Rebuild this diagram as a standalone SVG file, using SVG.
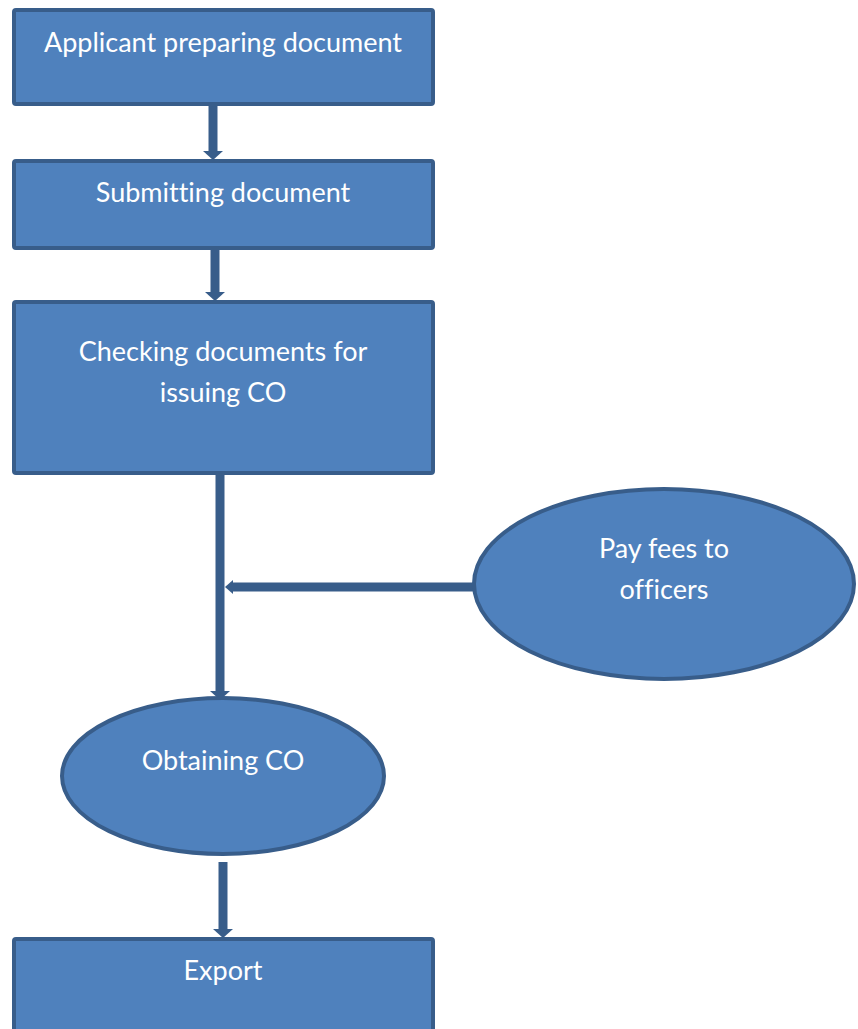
<svg xmlns="http://www.w3.org/2000/svg" width="858" height="1029" viewBox="0 0 858 1029">
<style>
.node{fill:#4F81BD;stroke:#385D8A;stroke-width:4}
.lbl{fill:#FFFFFF;font-family:Lato,"Open Sans","Liberation Sans",sans-serif;font-size:27px;text-anchor:middle;font-variant-ligatures:none}
.conn{stroke:#385D8A;stroke-width:9;fill:none}
.head{fill:#385D8A}
</style>
<rect width="858" height="1029" fill="#FFFFFF"/>
<g id="connectors">
<line class="conn" x1="213" y1="105" x2="213" y2="152"/>
<polygon class="head" points="203,151 223,151 213,160"/>
<line class="conn" x1="215" y1="250" x2="215" y2="293"/>
<polygon class="head" points="205,292 225,292 215,301"/>
<line class="conn" x1="220" y1="474" x2="220" y2="692"/>
<polygon class="head" points="210,691 230,691 220,700"/>
<line class="conn" x1="473" y1="587" x2="232" y2="587"/>
<polygon class="head" points="233,580 225,587 233,594"/>
<line class="conn" x1="223" y1="862" x2="223" y2="930"/>
<polygon class="head" points="213,929 233,929 223,938"/>
</g>
<g id="n1">
<rect class="node" x="14" y="10" width="419" height="94" rx="2"/>
<text class="lbl" x="223" y="52">Applicant preparing document</text>
</g>
<g id="n2">
<rect class="node" x="14" y="161" width="419" height="87" rx="2"/>
<text class="lbl" x="223" y="202">Submitting document</text>
</g>
<g id="n3">
<rect class="node" x="14" y="302" width="419" height="171" rx="2"/>
<text class="lbl" x="223" y="361">Checking documents for</text>
<text class="lbl" x="223" y="402">issuing CO</text>
</g>
<g id="n4">
<ellipse class="node" cx="664" cy="584" rx="190" ry="95"/>
<text class="lbl" x="664" y="558">Pay fees to</text>
<text class="lbl" x="664" y="599">officers</text>
</g>
<g id="n5">
<ellipse class="node" cx="223" cy="776" rx="161" ry="78"/>
<text class="lbl" x="223" y="770">Obtaining CO</text>
</g>
<g id="n6">
<rect class="node" x="14" y="939" width="419" height="100" rx="2"/>
<text class="lbl" x="223" y="980">Export</text>
</g>
</svg>
